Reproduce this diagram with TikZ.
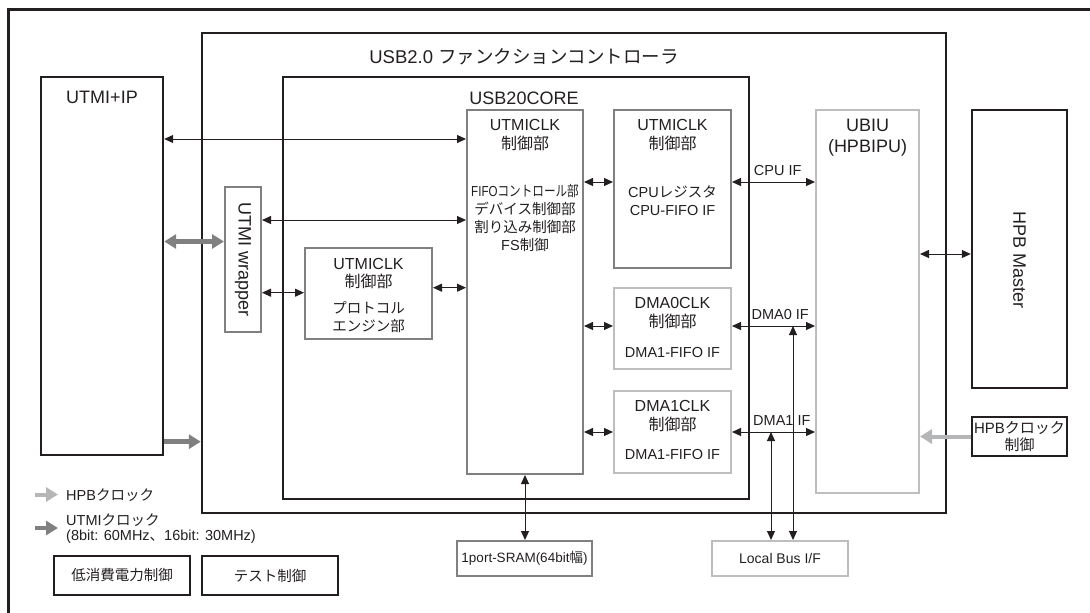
\documentclass[tikz,border=0pt]{standalone}
\usepackage{fontspec}
\usepackage{graphicx}
\setmainfont{Liberation Sans}
\newfontfamily\jpfont{Noto Sans CJK JP}
\newcommand\jp[1]{{\jpfont #1}}
\usetikzlibrary{positioning, arrows.meta}
\definecolor{inkblack}{RGB}{35, 31, 32}
\definecolor{boxgray}{RGB}{128, 128, 128}
\definecolor{palegray}{RGB}{188, 190, 192}
\definecolor{utmiclk}{RGB}{128, 128, 128}
\definecolor{hpbclkgray}{RGB}{180, 182, 184}

\begin{document}
\begin{tikzpicture}[x=1pt, y=-1pt,
        blkbox/.style={draw=inkblack, line width=2.4pt, inner sep=0pt, text=inkblack, align=center},
        graybox/.style={draw=boxgray, line width=2pt, inner sep=0pt, text=inkblack},
        palebox/.style={draw=palegray, line width=2pt, inner sep=0pt, text=inkblack},
        hd/.style={font=\fontsize{16}{18.5}\selectfont, align=center, inner sep=0pt, text=inkblack},
        bd/.style={font=\fontsize{14.5}{18}\selectfont, align=center, inner sep=0pt, text=inkblack},
        big/.style={font=\fontsize{18}{21.5}\selectfont, align=center, inner sep=0pt, text=inkblack},
        legend/.style={font=\fontsize{14.5}{17}\selectfont, inner sep=0pt, anchor=west, text=inkblack},
        iflabel/.style={font=\fontsize{14.5}{16}\selectfont, inner sep=1pt, above=5pt, text=inkblack},
        link/.style={{Triangle[length=9pt, width=8pt]}-{Triangle[length=9pt, width=8pt]}, line width=1pt, draw=inkblack},
        utmiarrow/.style={-{Triangle[length=12pt, width=14pt]}, line width=4.5pt, draw=utmiclk},
        utmibi/.style={{Triangle[length=12pt, width=14pt]}-{Triangle[length=12pt, width=14pt]}, line width=4.5pt, draw=utmiclk},
        hpbarrow/.style={-{Triangle[length=12pt, width=14pt]}, line width=4pt, draw=hpbclkgray}
    ]
    \useasboundingbox (0,0) rectangle (1090,613);
    \draw[line width=3pt, inkblack] (8,613) -- (8,9) -- (1090,9);

    % controller and core frames
    \node[blkbox, minimum width=744pt, minimum height=480pt] (fc) at (574,273) {};
    \node[big, font=\fontsize{18.5}{20}\selectfont] (fctitle) at (524,56.5)
        {USB2.0 \jp{ファンクションコントローラ}};
    \node[blkbox, minimum width=466pt, minimum height=422pt] (core) at (516,288) {};
    \node[big] (corelbl) at (524,98.3) {USB20CORE};

    \node[blkbox, minimum width=122pt, minimum height=378pt] (utmiip) at (102,266) {};
    \node[big] (utmiiplbl) at (102,97.3) {UTMI+IP};

    \node[graybox, minimum width=36pt, minimum height=145pt] (wrap) at (243,259.5) {};
    \node[big, rotate=-90] (wraptxt) at (243,259.5) {UTMI wrapper};

    \node[graybox, minimum width=127pt, minimum height=91pt] (proto) at (368.5,293.5) {};
    \node[hd] (protohd) at (368.5,273.5) {UTMICLK\\\jp{制御部}};
    \node[bd] (protobd) at (368.5,317) {\jp{プロトコル}\\\jp{エンジン部}};

    \node[graybox, minimum width=116pt, minimum height=364pt] (mainblk) at (525,292) {};
    \node[hd] (mainhd) at (525,135) {UTMICLK\\\jp{制御部}};
    \node[bd] (mainbd) at (525,218.5)
        {\scalebox{0.8}[1]{FIFO\jp{コントロール部}}\\\jp{デバイス制御部}\\\jp{割り込み制御部}\\FS\jp{制御}};

    \node[graybox, minimum width=117pt, minimum height=158pt] (cpu) at (672.5,189) {};
    \node[hd] (cpuhd) at (672.5,135) {UTMICLK\\\jp{制御部}};
    \node[bd] (cpubd) at (672.5,201) {CPU\jp{レジスタ}\\CPU-FIFO IF};

    \node[palebox, minimum width=117pt, minimum height=81pt] (dma0) at (672.5,328.5) {};
    \node[hd] (dma0hd) at (672.5,313) {DMA0CLK\\\jp{制御部}};
    \node[bd] (dma0bd) at (672.5,352.5) {DMA1-FIFO IF};

    \node[palebox, minimum width=117pt, minimum height=82pt] (dma1) at (672.5,432) {};
    \node[hd] (dma1hd) at (672.5,416.3) {DMA1CLK\\\jp{制御部}};
    \node[bd] (dma1bd) at (672.5,454.7) {DMA1-FIFO IF};

    \node[palebox, minimum width=103pt, minimum height=383pt] (ubiu) at (867.5,301.5) {};
    \node[big] (ubiutxt) at (867.5,137.8) {UBIU\\(HPBIPU)};

    % outside blocks
    \node[blkbox, minimum width=95pt, minimum height=278pt] (hpbm) at (1019.5,249) {};
    \node[big, rotate=-90] (hpbmtxt) at (1019.5,260) {HPB Master};
    \node[blkbox, minimum width=95pt, minimum height=39pt, font=\fontsize{15}{17.5}\selectfont] (hpbclk)
        at (1019.5,436.5) {HPB\jp{クロック}\\\jp{制御}};

    \node[graybox, minimum width=135pt, minimum height=35pt, font=\fontsize{13.5}{15}\selectfont] (sram)
        at (524.5,558.5) {1port-SRAM(64bit\jp{幅})};
    \node[palebox, minimum width=136pt, minimum height=35pt, font=\fontsize{14}{16}\selectfont] (lbus)
        at (780,558.5) {Local Bus I/F};

    \node[blkbox, minimum width=136pt, minimum height=39pt, font=\fontsize{14.5}{16}\selectfont] (lowpow)
        at (122,575.5) {\jp{低消費電力制御}};
    \node[blkbox, minimum width=136pt, minimum height=39pt, font=\fontsize{14.5}{16}\selectfont] (testctl)
        at (270,575.5) {\jp{テスト制御}};

    % legend
    \coordinate (hpbkeyS) at (35,494.5);
    \coordinate (hpbkeyE) at (58,494.5);
    \draw[hpbarrow] (hpbkeyS) -- (hpbkeyE);
    \node[legend] (hpbkey) at (66,495.5) {HPB\jp{クロック}};
    \coordinate (utmikeyS) at (35,528);
    \coordinate (utmikeyE) at (58,528);
    \draw[utmiarrow] (utmikeyS) -- (utmikeyE);
    \node[legend] (utmikey) at (66,520) {UTMI\jp{クロック}};
    \node[legend] (utmifreq) at (66,536.7) {(8bit: 60MHz\jp{、}16bit: 30MHz)};

    % connectors
    \draw[link] (utmiip.east|-0,139) -- (mainblk.west|-0,139);
    \draw[utmibi] (utmiip.east|-0,241.5) -- (wrap.west|-0,241.5);
    \draw[link] (wrap.east|-0,220) -- (mainblk.west|-0,220);
    \draw[link] (wrap.east|-0,292.7) -- (proto.west|-0,292.7);
    \draw[link] (proto.east|-0,287.7) -- (mainblk.west|-0,287.7);
    \draw[utmiarrow] (utmiip.east|-0,441.7) -- (fc.west|-0,441.7);

    \draw[link] (mainblk.east|-0,182) -- (cpu.west|-0,182);
    \draw[link] (cpu.east|-0,182) -- node[iflabel, pos=0.55] (cpuif) {CPU IF} (ubiu.west|-0,182);
    \draw[link] (mainblk.east|-0,326) -- (dma0.west|-0,326);
    \draw[link] (dma0.east|-0,326) -- node[iflabel, pos=0.58] (dma0if) {DMA0 IF} (ubiu.west|-0,326);
    \draw[link] (mainblk.east|-0,432) -- (dma1.west|-0,432);
    \draw[link] (dma1.east|-0,432) -- node[iflabel, pos=0.6] (dma1if) {DMA1 IF} (ubiu.west|-0,432);

    \draw[link] (ubiu.east|-0,254) -- (hpbm.west|-0,254);
    \draw[hpbarrow] (hpbclk.west) -- (ubiu.east|-hpbclk.west);

    \draw[link] (mainblk.south) -- (mainblk.south|-sram.north);
    \coordinate (dma1tap) at (771,432);
    \coordinate (dma0tap) at (793,326);
    \draw[link] (dma1tap) -- (dma1tap|-lbus.north);
    \draw[link] (dma0tap) -- (dma0tap|-lbus.north);
\end{tikzpicture}
\end{document}
